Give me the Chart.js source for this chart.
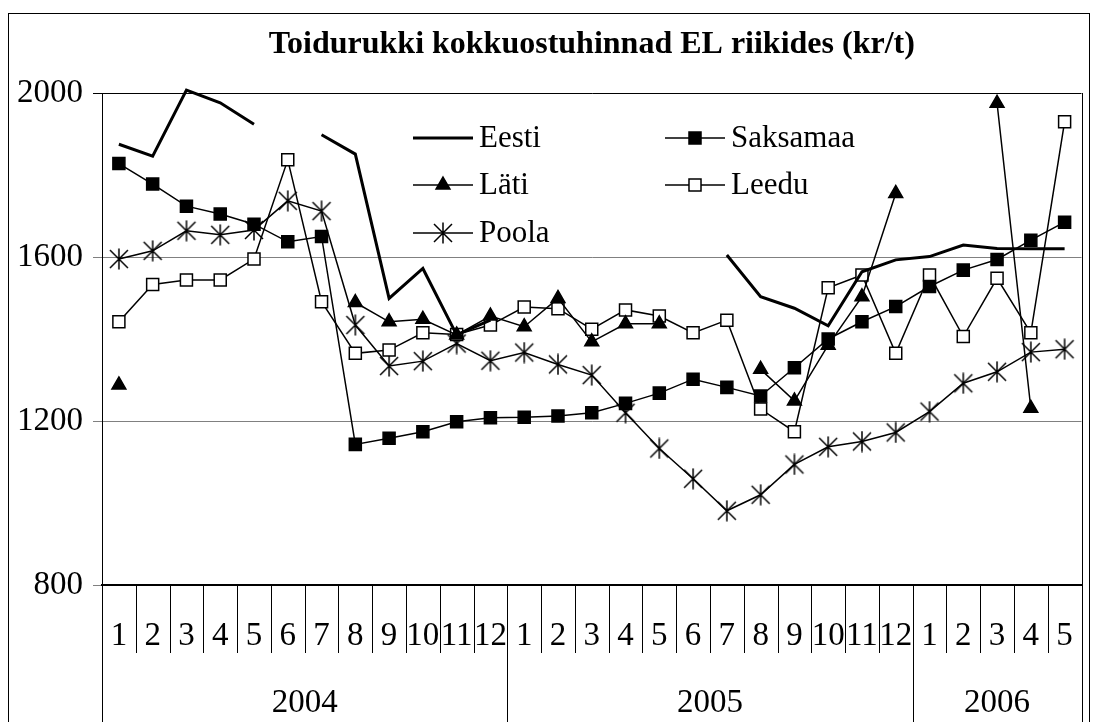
<!DOCTYPE html>
<html>
<head>
<meta charset="utf-8">
<script src="https://cdn.jsdelivr.net/npm/chart.js@4.4.0/dist/chart.umd.min.js"></script>
<style>
  body { margin: 0; background: #fff; }
  canvas { display: block; }
</style>
</head>
<body>
<canvas id="hinnad" width="1094" height="722"></canvas>
<script>
// kuud ja aastad
const months = ['1','2','3','4','5','6','7','8','9','10','11','12',
                '1','2','3','4','5','6','7','8','9','10','11','12',
                '1','2','3','4','5'];
const years = ['2004', '2005', '2006'];
const yearLengths = [12, 12, 5];

// hinnad kr/t
const eesti = [1875, 1846, 2007, 1976, 1924, null, 1898, 1851, 1499, 1572, 1410, 1446,
               null, null, null, null, null, null, 1605, 1503, 1475, 1432, 1564, 1593,
               1601, 1629, 1621, 1620, 1620];
const saksamaa = [1828, 1778, 1724, 1705, 1680, 1637, 1650, 1143, 1158, 1174, 1198, 1208,
                  1209, 1212, 1220, 1243, 1268, 1302, 1282, 1261, 1330, 1400, 1442, 1479,
                  1528, 1568, 1594, 1641, 1685];
const lati = [1288, null, null, null, null, null, null, 1489, 1442, 1448, 1410, 1456,
              1430, 1499, 1393, 1437, 1437, null, null, 1326, 1249, 1385, 1503, 1755,
              null, null, 1975, 1231, null];
const leedu = [1442, 1533, 1544, 1544, 1595, 1837, 1491, 1365, 1373, 1415, 1411, 1434,
               1478, 1474, 1424, 1471, 1456, 1415, 1446, 1229, 1174, 1525, 1556, 1365,
               1556, 1406, 1548, 1415, 1930];
const poola = [1595, 1615, 1664, 1654, 1666, 1737, 1712, 1434, 1334, 1346, 1389, 1347,
               1367, 1338, 1312, 1220, 1133, 1059, 981, 1020, 1094, 1137, 1150, 1172,
               1223, 1292, 1320, 1368, 1375];

const serif = "'Liberation Serif', 'Times New Roman', serif";

// asterisk marker (vertical + X, like Excel)
const star = document.createElement('canvas');
star.width = 22; star.height = 22;
(function () {
  const c = star.getContext('2d');
  c.strokeStyle = '#000';
  c.lineWidth = 1.5;
  c.beginPath();
  c.moveTo(11, 0.5); c.lineTo(11, 21.5);
  c.moveTo(2, 2); c.lineTo(20, 20);
  c.moveTo(20, 2); c.lineTo(2, 20);
  c.stroke();
})();

function series(label, data, extra) {
  return Object.assign({
    label: label,
    data: data,
    borderColor: '#000',
    borderWidth: 1.5,
    pointBorderColor: '#000',
    pointBackgroundColor: '#000',
    pointBorderWidth: 1.5,
    pointRadius: 8,
    spanGaps: false,
    clip: 12,
    tension: 0
  }, extra);
}

const datasets = [
  series('Eesti', eesti, { borderWidth: 3, pointRadius: 0, pointStyle: false }),
  series('Saksamaa', saksamaa, { pointStyle: 'rect', pointRadius: 8.5 }),
  series('Läti', lati, { pointStyle: 'triangle', pointRadius: 8 }),
  series('Leedu', leedu, { pointStyle: 'rect', pointRadius: 8.5, pointBackgroundColor: '#fff' }),
  series('Poola', poola, { pointStyle: star, pointRadius: 11 })
];

// legend inside the plot, two columns
const legendSpots = [
  { x: 413, y: 138 }, { x: 665, y: 138 },
  { x: 413, y: 185 }, { x: 665, y: 185 },
  { x: 413, y: 233 }
];

const decor = {
  id: 'decor',
  beforeDraw(chart) {
    const ctx = chart.ctx;
    ctx.save();
    ctx.fillStyle = '#fff';
    ctx.fillRect(0, 0, chart.width, chart.height);
    ctx.restore();
  },
  afterDraw(chart) {
    const { ctx, chartArea: a } = chart;
    const x = chart.scales.x;
    const base = Math.round(a.bottom);
    ctx.save();
    ctx.strokeStyle = '#000';
    ctx.lineWidth = 1;

    // outer frame
    ctx.strokeRect(8.5, 13.5, 1081, 730);

    // plot area right edge
    ctx.beginPath();
    ctx.moveTo(Math.round(a.right) + 0.5, a.top);
    ctx.lineTo(Math.round(a.right) + 0.5, a.bottom);
    ctx.stroke();

    // month dividers
    ctx.beginPath();
    for (let i = 0; i <= months.length; i++) {
      const px = Math.round(x.getPixelForValue(i - 0.5)) + 0.5;
      ctx.moveTo(px, base);
      ctx.lineTo(px, base + 68);
    }
    ctx.stroke();

    // year dividers and labels
    ctx.font = '33px ' + serif;
    ctx.fillStyle = '#000';
    ctx.textAlign = 'center';
    ctx.textBaseline = 'middle';
    let start = 0;
    ctx.beginPath();
    for (let k = 0; k <= years.length; k++) {
      const px = Math.round(x.getPixelForValue(start - 0.5)) + 0.5;
      ctx.moveTo(px, base);
      ctx.lineTo(px, chart.height);
      if (k < years.length) {
        const mid = x.getPixelForValue(start - 0.5 + yearLengths[k] / 2);
        ctx.fillText(years[k], mid, 703);
        start += yearLengths[k];
      }
    }
    ctx.stroke();

    // legend
    ctx.font = '31px ' + serif;
    ctx.textAlign = 'left';
    chart.data.datasets.forEach((ds, i) => {
      const s = legendSpots[i];
      ctx.strokeStyle = ds.borderColor;
      ctx.lineWidth = ds.borderWidth;
      ctx.beginPath();
      ctx.moveTo(s.x, s.y);
      ctx.lineTo(s.x + 60, s.y);
      ctx.stroke();
      if (ds.pointStyle) {
        ctx.fillStyle = ds.pointBackgroundColor;
        ctx.strokeStyle = ds.pointBorderColor;
        ctx.lineWidth = ds.pointBorderWidth;
        Chart.helpers.drawPoint(ctx, {
          pointStyle: ds.pointStyle,
          radius: ds.pointRadius,
          rotation: 0,
          borderWidth: ds.pointBorderWidth
        }, s.x + 30, s.y);
      }
      ctx.fillStyle = '#000';
      ctx.fillText(ds.label, s.x + 66, s.y + 1);
    });
    ctx.restore();
  }
};

const config = {
  type: 'line',
  data: { labels: months, datasets: datasets },
  options: {
    responsive: false,
    animation: false,
    events: [],
    layout: { padding: { left: 0, right: 2, top: 0, bottom: 0 } },
    plugins: {
      legend: { display: false },
      tooltip: { enabled: false },
      title: {
        display: true,
        fullSize: false,
        text: 'Toidurukki kokkuostuhinnad EL riikides (kr/t)',
        color: '#000',
        font: { family: serif, size: 32, weight: 'bold' },
        padding: { top: 26, bottom: 28.6 }
      }
    },
    scales: {
      x: {
        offset: true,
        grid: {
          display: true,
          drawOnChartArea: false,
          drawTicks: true,
          tickLength: 29,
          color: 'rgba(0,0,0,0)'
        },
        border: { display: true, color: '#000', width: 2 },
        ticks: {
          color: '#000',
          font: { family: serif, size: 33 },
          padding: 3,
          maxRotation: 0,
          autoSkip: false
        },
        afterFit: s => { s.height = 137; }
      },
      y: {
        min: 800,
        max: 2000,
        grid: {
          color: c => c.tick.value === 2000 ? '#000' : '#808080',
          tickLength: 9,
          lineWidth: 1
        },
        border: { display: true, color: '#000', width: 1 },
        ticks: {
          stepSize: 400,
          color: '#000',
          font: { family: serif, size: 33 },
          padding: 10,
          callback: v => String(v)
        },
        afterFit: s => { s.width = 102; }
      }
    }
  },
  plugins: [decor]
};

const hinnadCtx = document.getElementById('hinnad');
window.hinnadChart = new Chart(hinnadCtx, config);
</script>
</body>
</html>
